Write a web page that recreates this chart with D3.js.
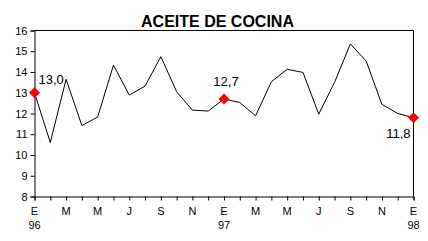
<!DOCTYPE html>
<html><head><meta charset="utf-8">
<script src="https://cdn.jsdelivr.net/npm/d3@7"></script>
<style>body{margin:0;background:#fff;}svg{display:block;}</style>
</head><body>
<svg id="c" width="428" height="241"></svg>
<script>
const title = "ACEITE DE COCINA";
const values = [13.0,10.6,13.65,11.42,11.83,14.33,12.89,13.32,14.74,13.05,12.16,12.12,12.7,12.53,11.89,13.53,14.13,13.98,11.97,13.5,15.35,14.53,12.44,12.0,11.8];
const monthLabels = ["E","M","M","J","S","N","E","M","M","J","S","N","E"];
const yearLabels = {0:"96",12:"97",24:"98"};
const highlighted = [0,12,24];
const highlightText = ["13,0","12,7","11,8"];
const yTicks = [8,9,10,11,12,13,14,15,16];

const svg = d3.select("#c");
const x = d3.scaleLinear().domain([0, values.length-1]).range([34.5, 413.5]);
const y = d3.scaleLinear().domain([8,16]).range([196.5, 30.5]);
const font = "Liberation Sans, Arial, sans-serif";

// frame
svg.append("path").attr("d", `M${x(0)},${y(16)}H${x(24)}V${y(8)}`).attr("fill","none").attr("stroke","#000").attr("stroke-width",1);

// y axis
const ya = svg.append("g").attr("transform",`translate(${x(0)},0)`)
  .call(d3.axisLeft(y).tickValues(yTicks).tickSize(4).tickPadding(3).tickFormat(d3.format("d")));
ya.select(".domain").attr("stroke","#000");
ya.selectAll("text").attr("font-family",font).attr("font-size","11px").attr("fill","#000");

// x axis
const xa = svg.append("g").attr("transform",`translate(0,${y(8)})`)
  .call(d3.axisBottom(x).tickValues(d3.range(values.length)).tickSize(4).tickFormat(""));
xa.select(".domain").attr("stroke","#000");
xa.selectAll("line").attr("stroke","#000");

svg.append("g").selectAll("text").data(monthLabels).join("text")
  .attr("x",(d,i)=>x(i*2)).attr("y",214.5).attr("text-anchor","middle")
  .attr("font-family",font).attr("font-size","11px").text(d=>d);
svg.append("g").selectAll("text").data(Object.entries(yearLabels)).join("text")
  .attr("x",d=>x(+d[0])).attr("y",229).attr("text-anchor","middle")
  .attr("font-family",font).attr("font-size","11px").text(d=>d[1]);

// line
svg.append("path").datum(values)
  .attr("d", d3.line().x((d,i)=>x(i)).y(d=>y(d)))
  .attr("fill","none").attr("stroke","#000").attr("stroke-width",1);

// markers (diamonds)
const r = 5.5;
svg.append("g").selectAll("path").data(highlighted).join("path")
  .attr("d", `M0,${-r}L${r},0L0,${r}L${-r},0Z`)
  .attr("transform", i=>`translate(${x(i)},${y(values[i])})`)
  .attr("fill","#ff0000");

// labels
const lab = svg.append("g").attr("font-family",font).attr("font-size","13px").attr("fill","#000");
lab.append("text").attr("x",x(0)+4).attr("y",y(values[0])-8.5).text(highlightText[0]);
lab.append("text").attr("x",x(12)+2).attr("y",y(values[12])-13).attr("text-anchor","middle").text(highlightText[1]);
lab.append("text").attr("x",x(24)-3).attr("y",y(values[24])+20).attr("text-anchor","end").text(highlightText[2]);

// title
svg.append("text").attr("x",217.5).attr("y",27).attr("text-anchor","middle")
  .attr("font-family",font).attr("font-weight","bold").attr("font-size","16px").text(title);
</script>
</body></html>
